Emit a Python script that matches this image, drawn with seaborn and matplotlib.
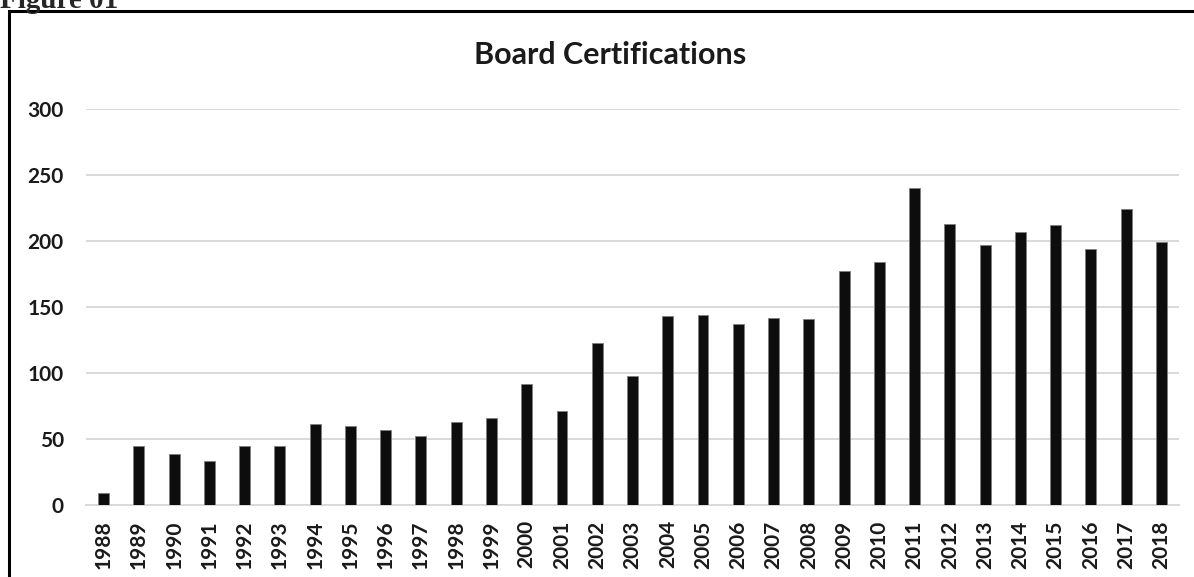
"""
Board certifications per year, bar chart.
"""

import matplotlib
matplotlib.use("Agg")
import matplotlib.pyplot as plt
import seaborn as sns
import pandas as pd
from matplotlib.patches import Rectangle

anos = [str(a) for a in range(1988, 2019)]
certificacoes = [9, 45, 39, 33, 45, 45, 61, 60, 57, 52, 63, 66, 92, 71, 123,
                 98, 143, 144, 137, 142, 141, 177, 184, 240, 213, 197, 207,
                 212, 194, 224, 199]
y_ticks = [0, 50, 100, 150, 200, 250, 300]

df = pd.DataFrame({"ano": anos, "total": certificacoes})

sns.set_theme(style="white")
plt.rcParams["font.family"] = ["Lato", "DejaVu Sans"]
plt.rcParams["font.weight"] = "bold"

W, H = 1194, 577
fig = plt.figure(figsize=(W / 100, H / 100), dpi=100)
ax = fig.add_axes([86 / W, 1 - 505 / H, (1179 - 86) / W, (505 - 109) / H])

sns.barplot(data=df, x="ano", y="total", color="#0d0d0d", width=0.31,
            saturation=1, edgecolor="#7f7f7f", linewidth=0.6, ax=ax, zorder=3)

ax.set_ylim(0, 300)
ax.set_xlim(-0.5, len(anos) - 0.5)
ax.set_yticks(y_ticks)
ax.yaxis.grid(True, color="#d9d9d9", linewidth=1.4, zorder=0)
ax.set_axisbelow(True)
for s in ["top", "right", "left"]:
    ax.spines[s].set_visible(False)
ax.spines["bottom"].set_color("#d9d9d9")
ax.spines["bottom"].set_linewidth(1.4)
ax.set_xlabel("")
ax.set_ylabel("")
ax.tick_params(axis="both", length=0, labelsize=15, colors="#1a1a1a")
ax.tick_params(axis="y", pad=16)
ax.tick_params(axis="x", pad=11, labelrotation=90)
plt.setp(ax.get_xticklabels() + ax.get_yticklabels(), fontweight="bold")

fig.text(610 / W, 1 - 55 / H, "Board Certifications", ha="center",
         va="center", fontsize=22, fontweight="bold", color="#1a1a1a")

# moldura e legenda da figura
fig.patches.append(Rectangle((9 / W, -0.05), 1.1, 1 - 11 / H + 0.05,
                             transform=fig.transFigure, fill=False,
                             edgecolor="black", linewidth=2.2))
fig.text(0.0, 1 - 8 / H, "Figure 01", ha="left", va="baseline",
         fontsize=21, fontweight="bold", family="Liberation Serif")

fig.savefig("out.png", dpi=100)
